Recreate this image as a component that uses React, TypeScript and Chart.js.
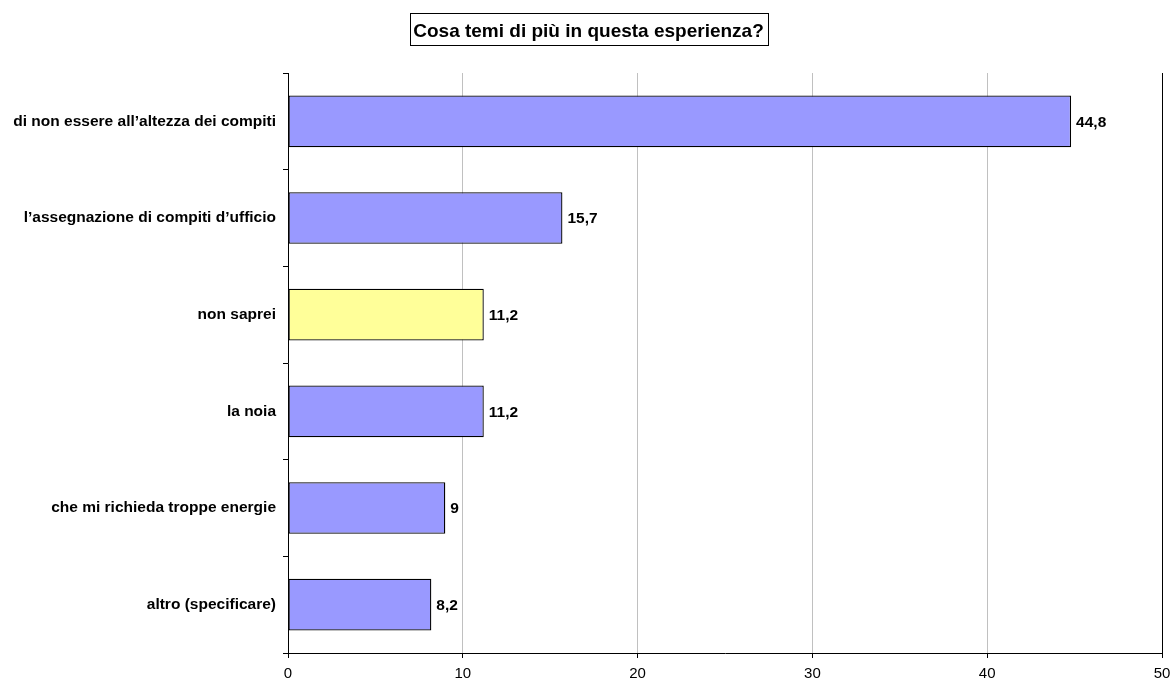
import React, { useEffect, useRef } from "react";
import { Chart, registerables } from "chart.js";
Chart.register(...registerables);

const TITLE = "Cosa temi di più in questa esperienza?";
const categories = [
  "di non essere all’altezza dei compiti",
  "l’assegnazione di compiti d’ufficio",
  "non saprei",
  "la noia",
  "che mi richieda troppe energie",
  "altro (specificare)",
];
const values = [44.8, 15.7, 11.2, 11.2, 9, 8.2];
const barColors = ["#9999FF", "#9999FF", "#FFFF99", "#9999FF", "#9999FF", "#9999FF"];
const xTicks = [0, 10, 20, 30, 40, 50];

const FONT = "'Liberation Sans', Arial, sans-serif";

const titlePlugin = {
  id: "boxTitle",
  afterDraw(chart: any) {
    const ctx = chart.ctx;
    ctx.save();
    ctx.font = `bold 19px ${FONT}`;
    const w = ctx.measureText(TITLE).width;
    const cx = 588.5;
    const bw = Math.round(w + 7);
    const bx = Math.round(cx - bw / 2) + 0.5;
    ctx.fillStyle = "#fff";
    ctx.strokeStyle = "#000";
    ctx.lineWidth = 1;
    ctx.fillRect(bx, 13.5, bw, 32);
    ctx.strokeRect(bx, 13.5, bw, 32);
    ctx.fillStyle = "#000";
    ctx.textAlign = "center";
    ctx.textBaseline = "alphabetic";
    ctx.fillText(TITLE, cx, 37);
    ctx.restore();
  },
};

const labelPlugin = {
  id: "valueLabels",
  afterDatasetsDraw(chart: any) {
    const ctx = chart.ctx;
    const meta = chart.getDatasetMeta(0);
    ctx.save();
    ctx.font = `bold 15.5px ${FONT}`;
    ctx.fillStyle = "#000";
    ctx.textAlign = "left";
    ctx.textBaseline = "middle";
    meta.data.forEach((bar: any, i: number) => {
      const txt = String(values[i]).replace(".", ",");
      ctx.fillText(txt, bar.x + 5, bar.y + 1);
    });
    ctx.restore();
  },
};

export default function App() {
  const ref = useRef<HTMLCanvasElement>(null);
  useEffect(() => {
    const chart = new Chart(ref.current!, {
      type: "bar",
      data: {
        labels: categories,
        datasets: [
          {
            data: values,
            backgroundColor: barColors,
            borderColor: "#000",
            borderWidth: 1.3,
            borderSkipped: false,
            barPercentage: 0.535,
            categoryPercentage: 1,
          },
        ],
      },
      options: {
        indexAxis: "y",
        animation: false,
        responsive: false,
        maintainAspectRatio: false,
        layout: { padding: { left: 0, top: 73, right: 10, bottom: 0 } },
        plugins: {
          legend: { display: false },
          title: { display: false },
          tooltip: { enabled: false },
        },
        scales: {
          x: {
            min: 0,
            max: 50,
            afterBuildTicks(scale: any) {
              scale.ticks = xTicks.map((v) => ({ value: v }));
            },
            afterFit(scale: any) {
              scale.height = 30;
              scale.paddingLeft = 0;
              scale.paddingRight = 0;
            },
            ticks: {
              color: "#000",
              font: { family: FONT, size: 15 },
              padding: 7,
              maxRotation: 0,
            },
            grid: {
              color: (c: any) => (c.tick && c.tick.value === 50 ? "#000" : "#c0c0c0"),
              tickColor: "#000",
              tickLength: 5,
            },
            border: { display: true, color: "#000", width: 1 },
          },
          y: {
            afterFit(scale: any) {
              scale.width = 288;
              scale.paddingTop = 0;
              scale.paddingBottom = 0;
            },
            ticks: {
              color: "#000",
              font: { family: FONT, size: 15.5, weight: "bold" },
              padding: 7,
            },
            grid: {
              drawOnChartArea: false,
              drawTicks: true,
              tickLength: 5,
              tickColor: "#000",
              offset: true,
            },
            border: { display: true, color: "#000", width: 1 },
          },
        },
      },
      plugins: [titlePlugin, labelPlugin],
    });
    return () => chart.destroy();
  }, []);
  return (
    <div style={{ position: "absolute", left: 0, top: 0, width: 1172, height: 683, background: "#fff" }}>
      <canvas ref={ref} width={1172} height={683} style={{ display: "block" }} />
    </div>
  );
}
